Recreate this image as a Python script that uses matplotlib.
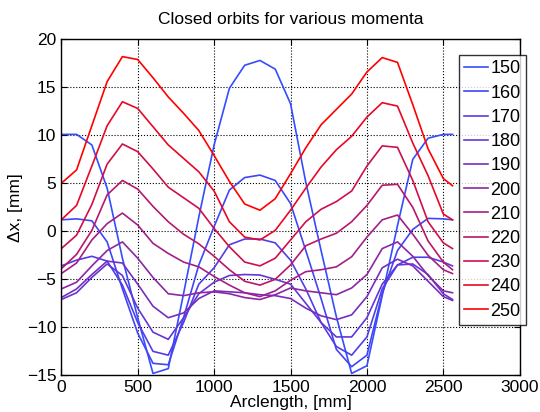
import numpy as np
import matplotlib
matplotlib.use("Agg")
import matplotlib.pyplot as plt

plt.rcParams["font.family"] = ["Liberation Sans", "DejaVu Sans"]

# arclength positions [mm]
s = [0, 100, 200, 300, 400, 500, 600, 700, 800, 900, 1000, 1100, 1200, 1300,
     1400, 1500, 1600, 1700, 1800, 1900, 2000, 2100, 2200, 2300, 2400, 2500, 2560]

momenta = [150, 160, 170, 180, 190, 200, 210, 220, 230, 240, 250]

# closed orbit offsets dx [mm]
dx150 = [10.1, 10.1, 9.0, 4.5, -2.8, -9.0, -14.8, -14.3, -6.5, 1.5, 9.0, 14.9, 17.3, 17.8,
         16.9, 13.3, 5.1, -2.0, -8.9, -14.8, -14.0, -6.7, 0.6, 7.5, 9.7, 10.1, 10.1]
dx160 = [1.2, 1.3, 1.1, -1.1, -6.0, -10.6, -13.75, -13.9, -9.0, -3.5, 0.5, 4.3, 5.6, 5.86,
         5.3, 2.9, -2.0, -7.0, -12.3, -14.1, -12.9, -6.5, -2.0, 0.2, 1.35, 1.3, 1.2]
dx170 = [-3.6, -3.0, -2.6, -3.1, -5.6, -9.5, -12.5, -12.9, -9.5, -5.5, -3.8, -1.4, -0.8, -0.8,
         -1.2, -3.0, -6.0, -9.5, -12.0, -12.9, -11.0, -6.0, -3.5, -2.7, -2.7, -3.2, -3.6]
dx180 = [-7.1, -6.4, -4.8, -3.4, -4.6, -8.0, -10.5, -11.25, -9.0, -6.5, -5.3, -4.6, -4.5, -4.55,
         -5.0, -5.5, -7.5, -9.5, -11.0, -11.0, -9.0, -5.5, -3.5, -3.4, -4.5, -6.5, -7.1]
dx190 = [-6.9, -6.0, -4.5, -3.1, -3.3, -5.5, -7.8, -9.0, -8.5, -7.0, -6.2, -6.3, -6.4, -6.6,
         -6.7, -7.0, -8.0, -8.8, -9.2, -8.7, -6.8, -3.8, -2.9, -3.6, -5.2, -6.8, -7.2]
dx200 = [-6.0, -5.3, -3.6, -2.0, -1.1, -2.8, -4.8, -6.5, -6.7, -6.4, -6.3, -6.5, -6.9, -7.1,
         -6.6, -5.9, -6.2, -6.4, -6.6, -5.9, -4.5, -1.8, -1.1, -2.6, -4.6, -6.2, -6.4]
dx210 = [-4.4, -3.3, -0.9, 0.8, 1.9, 0.66, -1.25, -2.3, -3.2, -3.7, -4.7, -5.6, -6.4, -6.8,
         -6.2, -5.1, -4.2, -4.0, -3.7, -2.65, -0.6, 1.2, 1.7, -0.3, -2.5, -4.0, -4.4]
dx220 = [-3.9, -2.4, 0.1, 3.8, 5.3, 4.4, 2.6, 1.0, -0.3, -1.3, -2.6, -4.0, -5.2, -5.6,
         -5.0, -3.5, -1.5, -0.8, -0.2, 1.0, 2.7, 4.8, 4.9, 2.5, -1.0, -3.2, -4.0]
dx230 = [-1.8, -0.4, 2.8, 7.0, 9.1, 8.3, 6.5, 4.6, 3.5, 2.4, 0.3, -1.6, -3.2, -3.6,
         -2.8, -0.9, 1.0, 2.3, 3.1, 4.2, 6.8, 8.9, 8.75, 5.3, 1.0, -1.2, -1.8]
dx240 = [1.2, 2.7, 6.8, 11.0, 13.5, 12.8, 10.9, 9.0, 7.6, 6.2, 4.2, 1.0, -0.6, -0.9,
         0.1, 2.2, 4.5, 6.7, 8.5, 9.9, 11.9, 13.4, 13.05, 9.2, 5.8, 1.8, 1.2]
dx250 = [5.0, 6.4, 11.0, 15.6, 18.2, 17.9, 16.0, 14.0, 12.3, 10.5, 7.9, 5.2, 2.85, 2.2,
         3.4, 6.0, 8.7, 11.1, 12.7, 14.3, 16.6, 18.1, 17.6, 13.2, 8.6, 5.5, 4.75]

orbits = [dx150, dx160, dx170, dx180, dx190, dx200, dx210, dx220, dx230, dx240, dx250]

fig = plt.figure(figsize=(5.4, 4.12), dpi=100)
ax = fig.add_axes([0.1135, 0.089, 0.849, 0.8155])

for i, (p, dx) in enumerate(zip(momenta, orbits)):
    t = i / (len(momenta) - 1)
    col = (0.2 + 0.8 * t ** 1.2, 0.3 * (1 - t), 1.0 - t ** 1.5)
    ax.plot(s, dx, color=col, lw=1.2, label=str(p))

ax.set_xlim(0, 3000)
ax.set_ylim(-15, 20)
ax.set_xticks(np.arange(0, 3001, 500))
ax.set_yticks(np.arange(-15, 21, 5))
ax.grid(True, color="black", linestyle=":", linewidth=0.8)
ax.tick_params(direction="in", labelsize=12.5, length=4, top=True, right=True)
for sp in ax.spines.values():
    sp.set_linewidth(1.0)

ax.set_title("Closed orbits for various momenta", fontsize=12.5, pad=11)
ax.set_xlabel("Arclength, [mm]", fontsize=12.5, labelpad=0)
ax.set_ylabel("\u0394x, [mm]", fontsize=12.5, labelpad=3)

leg = ax.legend(loc="upper right", bbox_to_anchor=(0.974, 0.8665),
                bbox_transform=fig.transFigure, fontsize=13, frameon=True,
                fancybox=False, borderaxespad=0, labelspacing=0.4,
                handlelength=1.3, handletextpad=0.15, borderpad=0.3)
leg.get_frame().set_edgecolor("black")
leg.get_frame().set_linewidth(1.0)

fig.savefig("out.png", dpi=100)
